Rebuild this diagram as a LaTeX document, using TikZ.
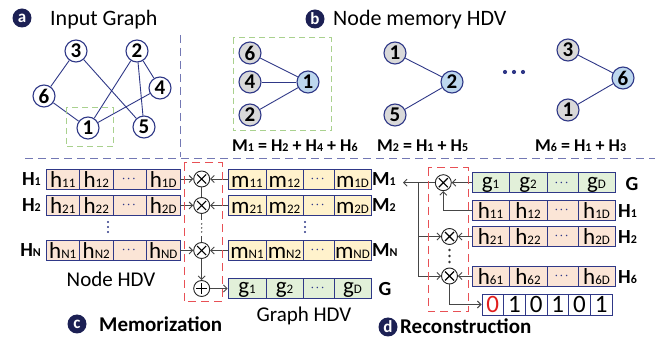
\documentclass[tikz,border=0pt]{standalone}
\usepackage{fontspec}
\setmainfont{Carlito}
\usepackage{amsmath}
\usetikzlibrary{arrows.meta,calc}
\definecolor{navy}{RGB}{47,56,135}
\definecolor{sepc}{RGB}{115,120,180}
\definecolor{badgec}{RGB}{28,32,84}
\definecolor{grayfill}{RGB}{217,217,217}
\definecolor{bluefill}{RGB}{189,215,238}
\definecolor{hfill}{RGB}{251,229,214}
\definecolor{mfill}{RGB}{255,242,204}
\definecolor{gfill}{RGB}{226,240,217}
\definecolor{greend}{RGB}{169,209,142}
\definecolor{redd}{RGB}{232,80,85}
\definecolor{conn}{RGB}{70,70,70}
\definecolor{bitred}{RGB}{225,30,30}
\newcommand{\fs}[1]{\fontsize{#1}{#1}\selectfont}
\newcommand{\sbn}[1]{{\fs{13}#1}}
\newcommand{\sbb}[1]{{\fs{12}\bfseries #1}}
\newcommand{\cdts}{\textcolor{navy}{\fs{10}$\boldsymbol{\cdots}$}}
\tikzset{
  gnode/.style={circle, draw=navy, line width=1.1pt, fill=white, minimum size=22pt, inner sep=0pt, font=\fs{21}\bfseries},
  mnode/.style={gnode, fill=grayfill},
  cnode/.style={gnode, fill=bluefill},
  edge/.style={navy, line width=0.9pt},
  badge/.style={circle, fill=badgec, minimum size=19pt, inner sep=0pt, text=white, font=\fs{17}\bfseries},
  ttl/.style={font=\fs{22}, inner sep=0pt, anchor=base west},
  btitle/.style={font=\fs{21}\bfseries, inner sep=0pt, anchor=base west},
  eqlab/.style={font=\fs{18}\bfseries, inner sep=0pt, anchor=base west},
  lab/.style={font=\fs{20}\bfseries, inner sep=0pt},
  cellbox/.style={draw=navy, line width=0.9pt, minimum height=20pt, inner sep=0pt, text height=16.5pt, text depth=0pt, font=\fs{23}},
  hcell/.style={cellbox, fill=hfill},
  mcell/.style={cellbox, fill=mfill},
  gcell/.style={cellbox, fill=gfill, text height=11pt},
  dcell/.style={text height={}, text depth={}},
  bitcell/.style={cellbox, fill=white, minimum height=21pt, minimum width=21.67pt, text height=17pt, font=\fs{25}},
  sepline/.style={sepc, line width=1pt, dash pattern=on 8pt off 5pt},
  gbox/.style={greend, line width=1pt, dash pattern=on 6pt off 4pt},
  rbox/.style={redd, line width=1pt, dash pattern=on 8pt off 5pt},
  mult/.style={circle, draw=black!85, line width=0.9pt, fill=white, minimum size=16pt, inner sep=0pt},
  cline/.style={conn, line width=0.9pt},
  arr/.style={conn, line width=0.9pt, -{Straight Barb[length=3.5pt,width=7pt]}},
}
\begin{document}
\begin{tikzpicture}[x=1pt,y=-1pt]
\useasboundingbox (0,0) rectangle (665,339);
% ---------- separators
\draw[sepline] (180,35) -- (180,157);
\draw[sepline] (25,159) -- (655,159);
% ---------- (a) input graph
\node[badge] (ba) at (22,18) {a};
\node[ttl] (ta) at (50,26) {Input Graph};
\node[gnode] (a3) at (76,51) {3};
\node[gnode] (a2) at (137,51) {2};
\node[gnode] (a6) at (44,96) {6};
\node[gnode] (a4) at (160,88) {4};
\node[gnode] (a1) at (88,128) {1};
\node[gnode] (a5) at (144,127) {5};
\draw[edge] (a3) -- (a6);
\draw[edge] (a3) -- (a5);
\draw[edge] (a6) -- (a1);
\draw[edge] (a2) -- (a1);
\draw[edge] (a2) -- (a4);
\draw[edge] (a2) -- (a5);
\draw[edge] (a4) -- (a1);
\draw[gbox] (66,108) rectangle (113,147);
% ---------- (b) node memory
\node[badge] (bb) at (315,19) {b};
\node[ttl] (tb) at (333,26) {Node memory HDV};
\node[mnode] (b16) at (250,53) {6};
\node[mnode] (b14) at (250,82) {4};
\node[mnode] (b12) at (250,115) {2};
\node[cnode] (b11) at (308,82) {1};
\draw[edge] (b16) -- (b11);
\draw[edge] (b14) -- (b11);
\draw[edge] (b12) -- (b11);
\draw[gbox] (233,38) rectangle (331,131);
\node[mnode] (b21) at (395,53) {1};
\node[mnode] (b25) at (395,115) {5};
\node[cnode] (b22) at (452,82) {2};
\draw[edge] (b21) -- (b22);
\draw[edge] (b25) -- (b22);
\foreach \x in {505,514,523} \fill[navy] (\x,72) circle (2.1);
\node[mnode] (b63) at (568,50) {3};
\node[mnode] (b61) at (568,110) {1};
\node[cnode] (b66) at (623,78) {6};
\draw[edge] (b63) -- (b66);
\draw[edge] (b61) -- (b66);
\node[eqlab] (e1) at (232,152) {M\sbb{1} = H\sbb{2} + H\sbb{4} + H\sbb{6}};
\node[eqlab] (e2) at (377,152) {M\sbb{2} = H\sbb{1} + H\sbb{5}};
\node[eqlab] (e6) at (535,152) {M\sbb{6} = H\sbb{1} + H\sbb{3}};
% ---------- (c) memorization
\node[lab, anchor=east] (lH1) at (41,179) {H\sbb{1}};
\node[lab, anchor=east] (lH2) at (41,205.5) {H\sbb{2}};
\node[lab, anchor=east] (lHN) at (41,250.5) {H\sbb{N}};
\foreach \r/\y/\i in {1/179/1,2/205.5/2,N/250.5/N}{
  \node[hcell, minimum width=33.5pt] (h\r a) at (62.75,\y) {h\sbn{\i1}};
  \node[hcell, minimum width=33.5pt] (h\r b) at (96.25,\y) {h\sbn{\i2}};
  \node[hcell, dcell, minimum width=33.5pt] (h\r c) at (129.75,\y) {\cdts};
  \node[hcell, minimum width=33.5pt] (h\r d) at (163.25,\y) {h\sbn{\i D}};
  \node[mcell, minimum width=38pt] (m\r a) at (247,\y) {m\sbn{\i1}};
  \node[mcell, minimum width=37pt] (m\r b) at (284.5,\y) {m\sbn{\i2}};
  \node[mcell, dcell, minimum width=31pt] (m\r c) at (318.5,\y) {\cdts};
  \node[mcell, minimum width=37pt] (m\r d) at (352.5,\y) {m\sbn{\i D}};
  \node[lab, anchor=west] (lM\r) at (372,\y) {M\sbb{\i}};
}
\foreach \x in {108,305} \foreach \y in {222,227,232} \fill[navy] (\x,\y) circle (1.2);
\node[gcell, minimum width=38pt] (cga) at (247,288.5) {g\sbn{1}};
\node[gcell, minimum width=37pt] (cgb) at (284.5,288.5) {g\sbn{2}};
\node[gcell, dcell, minimum width=31pt] (cgc) at (318.5,288.5) {\cdts};
\node[gcell, minimum width=37pt] (cgd) at (352.5,288.5) {g\sbn{D}};
\node[lab] (lG) at (385,289) {G};
\node[font=\fs{21}, inner sep=0pt, anchor=base] (nhdv) at (111,287) {Node HDV};
\node[font=\fs{21}, inner sep=0pt, anchor=base] (ghdv) at (304,322) {Graph HDV};
% multipliers
\node[mult] (c1) at (201.7,179) {};
\node[mult] (c2) at (201.7,205.5) {};
\node[mult] (cN) at (201.7,250.5) {};
\node[mult] (cp) at (201.7,288.5) {};
\draw[arr] (h1d) -- (c1);
\draw[arr] (h2d) -- (c2);
\draw[arr] (hNd) -- (cN);
\draw[arr] (m1a) -- (c1);
\draw[arr] (m2a) -- (c2);
\draw[arr] (mNa) -- (cN);
\draw[cline] (c1) -- (c2);
\draw[cline] (c2.south) -- ++(0,6);
\draw[cline] ($(cN.north)+(0,-6)$) -- (cN.north);
\foreach \y in {224,228,232} \fill[conn] (201.7,\y) circle (0.8);
\draw[arr] (cN) -- (cp);
\draw[arr] (cp) -- (cga);
\draw[rbox] (184,163) rectangle (222,302);
\node[badge] (bc) at (77,324) {c};
\node[btitle] (tc) at (99,332) {Memorization};
% ---------- (d) reconstruction
\node[gcell, minimum width=37pt] (dga) at (490.5,182.7) {g\sbn{1}};
\node[gcell, minimum width=38pt] (dgb) at (528,182.7) {g\sbn{2}};
\node[gcell, dcell, minimum width=31pt] (dgc) at (562.5,182.7) {\cdts};
\node[gcell, minimum width=37pt] (dgd) at (596.5,182.7) {g\sbn{D}};
\node[lab] (dlG) at (632,184) {G};
\foreach \r/\y in {1/210,2/236.5,6/276}{
  \node[hcell, minimum width=37pt] (d\r a) at (490.5,\y) {h\sbn{\r1}};
  \node[hcell, minimum width=38pt] (d\r b) at (528,\y) {h\sbn{\r2}};
  \node[hcell, dcell, minimum width=31pt] (d\r c) at (562.5,\y) {\cdts};
  \node[hcell, minimum width=37pt] (d\r d) at (596.5,\y) {h\sbn{\r D}};
  \node[lab, anchor=west] (dlH\r) at (618,\y+1) {H\sbb{\r}};
}
\node[mult] (x1) at (443.3,182.7) {};
\node[mult] (x2) at (449.5,236.5) {};
\node[mult] (x3) at (449.5,276) {};
\node[bitcell] (bt1) at (492.8,304.5) {\textcolor{bitred}{0}};
\node[bitcell] (bt2) at (514.5,304.5) {1};
\node[bitcell] (bt3) at (536.2,304.5) {0};
\node[bitcell] (bt4) at (557.8,304.5) {1};
\node[bitcell] (bt5) at (579.5,304.5) {0};
\node[bitcell] (bt6) at (601.2,304.5) {1};
\coordinate (mtip) at (403,182.7);
\coordinate (jn) at (418,182.7);
\draw[arr] (dga) -- (x1);
\draw[arr] (d1a.west) -| (x1);
\draw[arr] (x1) -- (mtip);
\draw[cline] (jn) -- (jn |- x3);
\draw[arr] (jn |- x2) -- (x2);
\draw[arr] (jn |- x3) -- (x3);
\draw[arr] (d2a) -- (x2);
\draw[arr] (d6a) -- (x3);
\draw[arr] (x3) |- (bt1);
\foreach \y in {250,256,262} \fill[black!80] (449.5,\y) circle (1.3);
\draw[rbox] (428,168) rectangle (468,312);
\node[badge] (bd) at (388,327) {d};
\node[btitle] (td) at (400,334) {Reconstruction};
% ---------- crosses and plus
\foreach \n in {c1,c2,cN,x1,x2,x3}
  \draw[line width=1.1pt] ($(\n)+(-4.5,-4.5)$) -- ($(\n)+(4.5,4.5)$) ($(\n)+(-4.5,4.5)$) -- ($(\n)+(4.5,-4.5)$);
\draw[line width=1.1pt] ($(cp)+(-5.5,0)$) -- ($(cp)+(5.5,0)$) ($(cp)+(0,-5.5)$) -- ($(cp)+(0,5.5)$);
\end{tikzpicture}
\end{document}
